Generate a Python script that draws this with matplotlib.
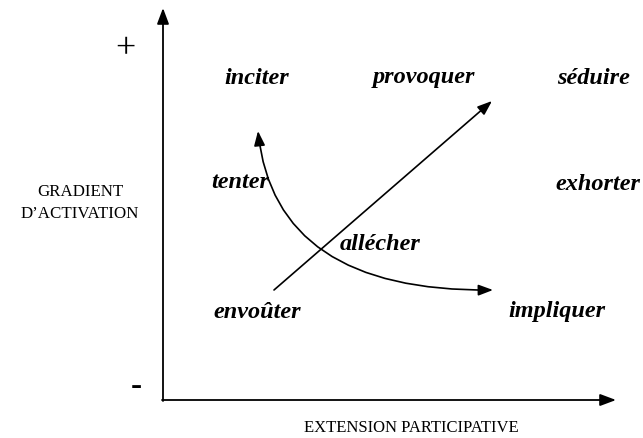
import matplotlib.pyplot as plt
from matplotlib.patches import FancyArrowPatch
from matplotlib.path import Path

# Verbs placed in the plane (pixel space of the original figure).
verbs = ['inciter', 'provoquer', 'séduire', 'tenter', 'exhorter',
         'allécher', 'envoûter', 'impliquer']
verb_x = [257, 424, 594, 240, 598, 380, 257, 557]
verb_y = [78, 78, 78, 183, 184, 244, 312, 312]

# Axis labels.
y_label = "GRADIENT\nD\u2019ACTIVATION"
x_label = "EXTENSION PARTICIPATIVE"

fig = plt.figure(figsize=(6.43, 4.38), dpi=100)
ax = fig.add_axes([0, 0, 1, 1])
ax.set_xlim(0, 643)
ax.set_ylim(438, 0)
ax.axis('off')

serif = 'Liberation Serif'
head = '-|>,head_length=0.8,head_width=0.3'

# Axes arrows.
ax.annotate('', xy=(163, 8), xytext=(163, 401),
            arrowprops=dict(arrowstyle=head, color='black', lw=1.3,
                            shrinkA=0, shrinkB=0, mutation_scale=12))
ax.annotate('', xy=(616, 400), xytext=(162, 400),
            arrowprops=dict(arrowstyle=head, color='black', lw=1.3,
                            shrinkA=0, shrinkB=0, mutation_scale=12))

ax.text(125, 50, '+', fontsize=26, family=serif, ha='center', va='center')
ax.text(136, 386, '-', fontsize=24, family=serif, fontweight='bold',
        ha='center', va='center')

ax.text(80, 203, y_label, fontsize=12.2, family=serif, ha='center',
        va='center', linespacing=1.45)
ax.text(411, 428, x_label, fontsize=12, family=serif, ha='center',
        va='center')

for w, x, y in zip(verbs, verb_x, verb_y):
    ax.text(x, y, w, fontsize=17.5, family=serif, fontweight='bold',
            fontstyle='italic', ha='center', va='center')

# Straight diagonal arrow.
ax.annotate('', xy=(492, 101), xytext=(274, 290),
            arrowprops=dict(arrowstyle=head, color='black', lw=1.2,
                            shrinkA=0, shrinkB=0, mutation_scale=11))

# Curved double-headed arrow.
curve = Path([(258, 131), (275, 292), (493, 290)],
             [Path.MOVETO, Path.CURVE3, Path.CURVE3])
ax.add_patch(FancyArrowPatch(path=curve,
                             arrowstyle='<|-|>,head_length=0.8,head_width=0.3',
                             mutation_scale=11, color='black', lw=1.2))

fig.savefig('out.png', dpi=100)
